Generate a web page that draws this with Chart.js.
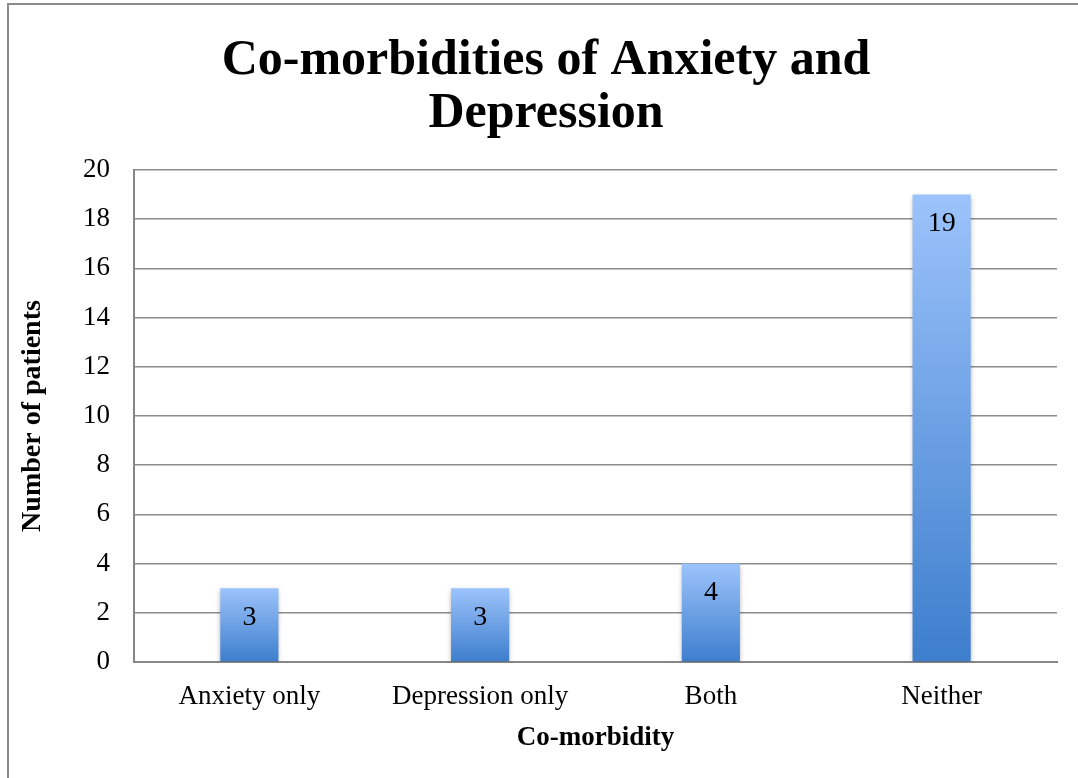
<!DOCTYPE html>
<html>
<head>
<meta charset="utf-8">
<script src="https://cdn.jsdelivr.net/npm/chart.js@4.4.1/dist/chart.umd.min.js"></script>
<style>
  html, body { margin:0; padding:0; background:#fff; }
  #wrap { width:1078px; height:778px; position:relative; }
</style>
</head>
<body>
<div id="wrap"><canvas id="chart" width="1078" height="778"></canvas></div>
<script>
// ─── Data ────────────────────────────────────────────
const categories = ['Anxiety only', 'Depression only', 'Both', 'Neither'];
const patients   = [3, 3, 4, 19];
const yTicks     = { min: 0, max: 20, step: 2 };
const titleLines = ['Co-morbidities of Anxiety and', 'Depression'];
const xTitle     = 'Co-morbidity';
const yTitle     = 'Number of patients';

const SERIF = "'Liberation Serif', 'DejaVu Serif', serif";

// gradient per bar, light on top, darker at the base
function barGradient(ctx) {
  const chart = ctx.chart;
  const area = chart.chartArea;
  if (!area || ctx.dataIndex === undefined) return '#6a9fe4';
  const ys = chart.scales.y;
  const top = ys.getPixelForValue(patients[ctx.dataIndex]);
  const base = ys.getPixelForValue(0);
  const g = chart.ctx.createLinearGradient(0, top, 0, base);
  g.addColorStop(0, '#9cc3fb');
  g.addColorStop(1, '#3d7ecd');
  return g;
}

// outer frame (only left & top are inside the picture) + title
const framePlugin = {
  id: 'frame',
  beforeDraw(chart) {
    const c = chart.ctx;
    c.save();
    c.strokeStyle = '#8a8a8a';
    c.lineWidth = 2;
    c.beginPath();
    c.moveTo(8, 800);
    c.lineTo(8, 4);
    c.lineTo(1100, 4);
    c.stroke();

    c.font = 'bold 50px ' + SERIF;
    c.fillStyle = '#000';
    c.textAlign = 'center';
    c.textBaseline = 'middle';
    titleLines.forEach((line, i) => c.fillText(line, 546, 61 + i * 53));
    c.restore();
  }
};

// soft shadow under the bars
const shadowPlugin = {
  id: 'barShadow',
  beforeDatasetsDraw(chart) {
    const c = chart.ctx;
    c.save();
    c.shadowColor = 'rgba(0,0,0,0.35)';
    c.shadowBlur = 5;
    c.shadowOffsetX = 0;
    c.shadowOffsetY = 2;
  },
  afterDatasetsDraw(chart) { chart.ctx.restore(); }
};

// value labels inside the top of each bar
const valueLabels = {
  id: 'valueLabels',
  afterDatasetsDraw(chart) {
    const c = chart.ctx;
    const meta = chart.getDatasetMeta(0);
    c.save();
    c.font = '28px ' + SERIF;
    c.fillStyle = '#000';
    c.textAlign = 'center';
    c.textBaseline = 'middle';
    meta.data.forEach((bar, i) => {
      c.fillText(String(patients[i]), bar.x, bar.y + 29);
    });
    c.restore();
  }
};

new Chart(document.getElementById('chart'), {
  type: 'bar',
  data: {
    labels: categories,
    datasets: [{
      data: patients,
      backgroundColor: barGradient,
      borderWidth: 0,
      barPercentage: 0.252,
      categoryPercentage: 1,
    }]
  },
  plugins: [framePlugin, shadowPlugin, valueLabels],
  options: {
    responsive: false,
    animation: false,
    devicePixelRatio: 1,
    layout: { padding: { left: 8, right: 21, top: 170, bottom: 0 } },
    plugins: {
      legend: { display: false },
      tooltip: { enabled: false },
      title: { display: false },
    },
    scales: {
      x: {
        grid: { display: false, drawTicks: false },
        border: { color: '#868686', width: 2 },
        ticks: { color: '#000', font: { family: SERIF, size: 27 }, padding: 19 },
        title: { display: true, text: xTitle, color: '#000', font: { family: SERIF, size: 27, weight: 'bold' }, padding: { top: 0, bottom: 24 } },
        afterFit(s) { s.height = 116; },
      },
      y: {
        min: yTicks.min, max: yTicks.max,
        grid: { color: '#8c8c8c', lineWidth: 1.5, drawTicks: false },
        border: { color: '#868686', width: 2 },
        ticks: { stepSize: yTicks.step, color: '#000', font: { family: SERIF, size: 27 }, padding: 24 },
        title: { display: true, text: yTitle, color: '#000', font: { family: SERIF, size: 28, weight: 'bold' }, padding: { top: 8 } },
        afterFit(s) { s.width = 126; },
      },
    },
  },
});
</script>
</body>
</html>
